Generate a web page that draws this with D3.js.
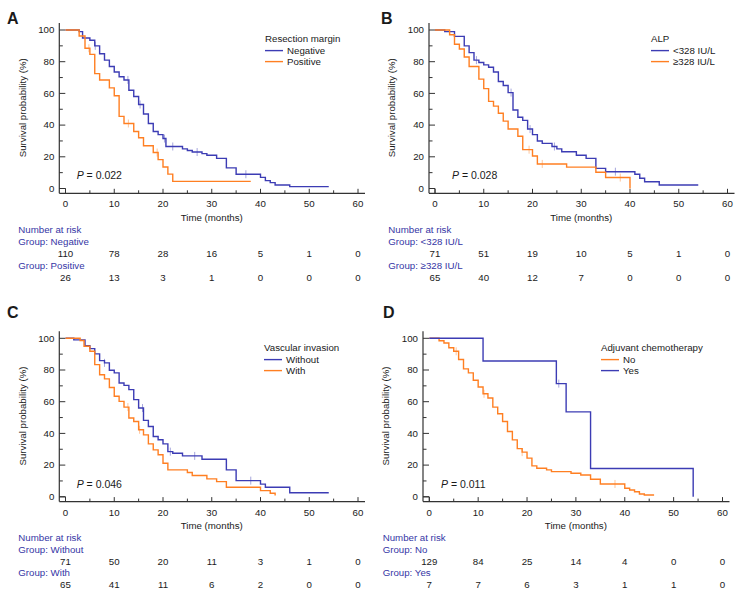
<!DOCTYPE html>
<html><head><meta charset="utf-8">
<script src="https://cdn.jsdelivr.net/npm/d3@7"></script>
<style>
body{margin:0;background:#fff}
svg{display:block}
text{font-family:"Liberation Sans",Arial,Helvetica,sans-serif;fill:#1a1a1a}
</style>
</head><body>
<svg id="chart" width="753" height="589"></svg>
<script>
// ---------- data ----------
const timeTicks = [0, 10, 20, 30, 40, 50, 60];
const survTicks = [0, 20, 40, 60, 80, 100];

// Panel A: Resection margin
const aNegT = [0, 2.8, 3.5, 5, 6, 7, 8, 9, 10, 11, 12, 13, 14, 15, 16, 17, 18, 19, 20, 20.6, 24, 25, 26, 28, 29, 31, 33, 35, 40, 41, 42, 43, 46];
const aNegS = [100, 99, 95, 93.5, 90, 85, 81, 77, 73.5, 70.5, 68.5, 62, 58, 53, 47, 41, 36, 34, 31.5, 26.5, 25, 24, 23, 22, 21, 19, 13, 9, 7, 5, 3.7, 2.2, 1.2];
const aNegEnd = 54;
const aNegCens = [6.1, 12.8, 15.3, 20.3, 22, 27, 37];
const aPosT = [0, 2.8, 4, 5, 6, 7, 9, 10, 11, 12, 14, 15, 16, 18, 19, 20, 21, 22];
const aPosS = [100, 96.2, 88.5, 84.6, 72.5, 68.5, 63.5, 58.5, 45.5, 41, 36, 32, 27, 22.7, 18.2, 13.6, 9.1, 4.5];
const aPosEnd = 38;
const aPosCens = [4.8, 12.9, 18.8];
const aRiskNeg = [110, 78, 28, 16, 5, 1, 0];
const aRiskPos = [26, 13, 3, 1, 0, 0, 0];

// Panel B: ALP
const bLowT = [0, 2, 4, 6, 7, 8, 9, 10, 11, 12, 13, 14, 15, 16, 17, 18, 19, 20, 21, 22, 24, 25, 26, 29, 31, 33, 35, 41, 42, 43, 46];
const bLowS = [100, 99, 96, 90, 85.7, 81, 79.5, 78, 76.5, 73.5, 67.5, 65, 60.5, 49.5, 45, 43, 37.5, 34, 30, 28.5, 26.5, 25, 23.2, 21, 19, 12.7, 10.6, 9, 6.5, 4.3, 2.2];
const bLowEnd = 54;
const bLowCens = [8.5, 15.6, 19.5, 24.5, 37];
const bHighT = [0, 3, 4, 5, 6, 7, 9, 10, 11, 12, 13, 14, 15, 17, 18, 20, 21, 27, 33, 35, 40];
const bHighS = [100, 97, 91, 88, 83, 77, 69, 63, 55, 52, 47.5, 42.5, 37.5, 33, 24.5, 20.5, 15.5, 13.5, 10.3, 6.9, 0];
const bHighEnd = 40;
const bHighCens = [19.3, 22, 38];
const bRiskLow = [71, 51, 19, 10, 5, 1, 0];
const bRiskHigh = [65, 40, 12, 7, 0, 0, 0];

// Panel C: Vascular invasion
const cWoT = [0, 1.7, 4, 5, 6, 7, 8, 9, 10, 11, 12, 13, 14, 15, 16, 17, 18, 19, 20, 21, 22, 24, 28, 33, 35, 40, 41, 46];
const cWoS = [100, 99, 95.4, 93.5, 90.2, 85.9, 84.5, 79.8, 78.2, 71.8, 70.3, 67.6, 61.3, 56, 48.2, 44.4, 38, 36, 33.4, 28.5, 27.5, 25.8, 23.7, 17, 10.2, 8, 6, 2.6];
const cWoEnd = 54;
const cWoCens = [8, 15.8, 21.5, 26.5, 38];
const cWiT = [0, 3, 3.8, 5, 6, 7, 8, 9, 10, 11, 12, 13, 14, 15, 16, 17, 18, 19, 20, 21, 25, 26, 29, 31, 33, 40, 42, 43];
const cWiS = [100, 98.6, 95, 91.8, 83.4, 77, 74.4, 69, 63.4, 60.2, 56.6, 49.7, 47.5, 42.3, 39.1, 33.4, 29.6, 26.5, 21.2, 17, 15.3, 13.4, 11.3, 9.6, 6, 3.9, 2.2, 0.8];
const cWiEnd = 43;
const cWiCens = [12.8, 15.2];
const cRiskWo = [71, 50, 20, 11, 3, 1, 0];
const cRiskWi = [65, 41, 11, 6, 2, 0, 0];

// Panel D: Adjuvant chemotherapy
const dNoT = [0, 2, 3, 4, 5, 6, 7, 8, 9, 10, 11, 12, 13, 14, 15, 16, 17, 18, 19, 20, 21, 22, 24, 25, 29, 31, 33, 35, 40, 41, 42, 43, 44];
const dNoS = [100, 98.5, 97, 94, 91.8, 86.6, 80.7, 78.2, 73.5, 69.3, 65, 62.3, 56.6, 52.4, 47.5, 41.2, 35.9, 30.4, 28.2, 24.4, 19.5, 18, 17, 15.9, 14.9, 13.8, 11.1, 8.1, 5.4, 4.3, 3.2, 1.8, 1.1];
const dNoEnd = 46;
const dNoCens = [5.5, 11.2, 19, 38];
const dYesT = [0, 11, 26, 28, 33, 54];
const dYesS = [100, 85.7, 71.4, 53.6, 17.9, 0];
const dYesEnd = 54;
const dYesCens = [26.5];
const dRiskNo = [129, 84, 25, 14, 4, 0, 0];
const dRiskYes = [7, 7, 6, 3, 1, 1, 0];

// ---------- styles ----------
const BLUE = "#3c3cb4";
const ORANGE = "#ff7f22";
const TXT_BLUE = "#3535a5";
const FS = 9.7;

const panels = [
  {letter: "A", title: "Resection margin", p: "0.022",
   groups: [
     {name: "Negative", t: aNegT, s: aNegS, end: aNegEnd, cens: aNegCens, color: BLUE, risk: aRiskNeg},
     {name: "Positive", t: aPosT, s: aPosS, end: aPosEnd, cens: aPosCens, color: ORANGE, risk: aRiskPos}],
   L: {axisX: 59.3, x0: 65.5, x60: 358, yTop: 30, yBot: 188.5, axisY: 193.3, letX: 7, letY: 23.5, legX: 265, legY: 38.3, pX: 76.7, pY: 175, riskX: 18.3, riskY: 230}},
  {letter: "B", title: "ALP", p: "0.028",
   groups: [
     {name: "<328 IU/L", t: bLowT, s: bLowS, end: bLowEnd, cens: bLowCens, color: BLUE, risk: bRiskLow},
     {name: "≥328 IU/L", t: bHighT, s: bHighS, end: bHighEnd, cens: bHighCens, color: ORANGE, risk: bRiskHigh}],
   L: {axisX: 429, x0: 435, x60: 727.5, yTop: 30, yBot: 188.5, axisY: 193.3, letX: 381, letY: 23.5, legX: 651, legY: 38.3, pX: 452, pY: 175, riskX: 388.3, riskY: 230}},
  {letter: "C", title: "Vascular invasion", p: "0.046",
   groups: [
     {name: "Without", t: cWoT, s: cWoS, end: cWoEnd, cens: cWoCens, color: BLUE, risk: cRiskWo},
     {name: "With", t: cWiT, s: cWiS, end: cWiEnd, cens: cWiCens, color: ORANGE, risk: cRiskWi}],
   L: {axisX: 59.3, x0: 65.5, x60: 358, yTop: 338.3, yBot: 496.8, axisY: 501.6, letX: 7, letY: 318, legX: 264, legY: 347.3, pX: 76.7, pY: 484, riskX: 18.3, riskY: 537.7}},
  {letter: "D", title: "Adjuvant chemotherapy", p: "0.011",
   groups: [
     {name: "No", t: dNoT, s: dNoS, end: dNoEnd, cens: dNoCens, color: ORANGE, risk: dRiskNo},
     {name: "Yes", t: dYesT, s: dYesS, end: dYesEnd, cens: dYesCens, color: BLUE, risk: dRiskYes}],
   L: {axisX: 423, x0: 429.3, x60: 722.5, yTop: 338.3, yBot: 496.8, axisY: 501.6, letX: 383, letY: 318, legX: 601, legY: 347.3, pX: 441, pY: 484, riskX: 382.7, riskY: 537.7}}
];

const svg = d3.select("#chart");

panels.forEach(P => {
  const L = P.L;
  const g = svg.append("g");
  const x = d3.scaleLinear().domain([0, 60]).range([L.x0, L.x60]);
  const y = d3.scaleLinear().domain([0, 100]).range([L.yBot, L.yTop]);

  // panel letter
  g.append("text").attr("x", L.letX).attr("y", L.letY)
    .attr("font-size", 16).attr("font-weight", "bold").attr("fill", "#000").text(P.letter);

  // axes lines
  const axCol = "#333";
  g.append("line").attr("x1", L.axisX).attr("x2", L.axisX)
    .attr("y1", L.yTop - 7).attr("y2", L.axisY).attr("stroke", axCol).attr("stroke-width", 1.2);
  g.append("line").attr("x1", L.axisX).attr("x2", x(60) + 7)
    .attr("y1", L.axisY).attr("y2", L.axisY).attr("stroke", axCol).attr("stroke-width", 1.2);

  // x ticks (inward)
  d3.range(0, 61, 5).forEach(v => {
    const major = v % 10 === 0;
    g.append("line").attr("x1", x(v)).attr("x2", x(v))
      .attr("y1", L.axisY).attr("y2", L.axisY - (major ? 4.5 : 3))
      .attr("stroke", axCol).attr("stroke-width", 1);
  });
  timeTicks.forEach(v => {
    g.append("text").attr("x", x(v)).attr("y", L.axisY + 10.7).attr("dy", "0.35em")
      .attr("text-anchor", "middle").attr("font-size", FS).text(v);
  });
  g.append("text").attr("x", (L.x0 + L.x60) / 2).attr("y", L.axisY + 24).attr("dy", "0.35em")
    .attr("text-anchor", "middle").attr("font-size", FS).text("Time (months)");

  // y ticks
  d3.range(0, 101, 10).forEach(v => {
    const major = v % 20 === 0;
    g.append("line").attr("x1", L.axisX).attr("x2", L.axisX + (major ? 6 : 3.5))
      .attr("y1", y(v)).attr("y2", y(v)).attr("stroke", axCol).attr("stroke-width", 1);
  });
  survTicks.forEach(v => {
    g.append("text").attr("x", L.axisX - 5).attr("y", y(v)).attr("dy", "0.35em")
      .attr("text-anchor", "end").attr("font-size", FS).text(v);
  });
  // origin tick box (x=0 tick)
  g.append("line").attr("x1", x(0)).attr("x2", x(0)).attr("y1", y(0)).attr("y2", L.axisY)
    .attr("stroke", axCol).attr("stroke-width", 1);
  g.append("line").attr("x1", L.axisX).attr("x2", x(0)).attr("y1", y(0)).attr("y2", y(0))
    .attr("stroke", axCol).attr("stroke-width", 1);

  g.append("text")
    .attr("transform", `translate(${L.axisX - 37},${(L.yTop + L.yBot) / 2 - 1.5}) rotate(-90)`)
    .attr("dy", "0.35em").attr("text-anchor", "middle").attr("font-size", FS)
    .text("Survival probability (%)");

  // curves
  const line = d3.line().x(d => x(d[0])).y(d => y(d[1])).curve(d3.curveStepAfter);
  P.groups.forEach(G => {
    const pts = G.t.map((t, i) => [t, G.s[i]]);
    pts.push([G.end, G.s[G.s.length - 1]]);
    const stepAt = tt => { let v = G.s[0]; G.t.forEach((t, i) => { if (t <= tt) v = G.s[i]; }); return v; };
    G.cens.forEach(c => {
      g.append("line").attr("x1", x(c)).attr("x2", x(c))
        .attr("y1", y(stepAt(c)) - 4).attr("y2", y(stepAt(c)) + 4)
        .attr("stroke", G.color).attr("stroke-opacity", 0.45).attr("stroke-width", 1);
    });
    g.append("path").datum(pts).attr("d", line).attr("fill", "none")
      .attr("stroke", G.color).attr("stroke-width", 1.4);
  });

  // legend
  g.append("text").attr("x", L.legX).attr("y", L.legY).attr("dy", "0.35em")
    .attr("font-size", FS).text(P.title);
  P.groups.forEach((G, i) => {
    const yy = L.legY + 12.3 + i * 11;
    g.append("line").attr("x1", L.legX).attr("x2", L.legX + 18).attr("y1", yy).attr("y2", yy)
      .attr("stroke", G.color).attr("stroke-width", 1.4);
    g.append("text").attr("x", L.legX + 22).attr("y", yy).attr("dy", "0.35em")
      .attr("font-size", FS).text(G.name);
  });

  // P value
  const pt = g.append("text").attr("x", L.pX).attr("y", L.pY).attr("dy", "0.35em").attr("font-size", 10.5);
  pt.append("tspan").attr("font-style", "italic").text("P");
  pt.append("tspan").text(" = " + P.p);

  // risk table
  g.append("text").attr("x", L.riskX).attr("y", L.riskY).attr("dy", "0.35em")
    .attr("font-size", FS).style("fill", TXT_BLUE).text("Number at risk");
  const rowOff = [[12, 23.5], [35.3, 47.3]];
  P.groups.forEach((G, i) => {
    g.append("text").attr("x", L.riskX).attr("y", L.riskY + rowOff[i][0]).attr("dy", "0.35em")
      .attr("font-size", FS).style("fill", TXT_BLUE).text("Group: " + G.name);
    G.risk.forEach((n, k) => {
      g.append("text").attr("x", x(timeTicks[k])).attr("y", L.riskY + rowOff[i][1]).attr("dy", "0.35em")
        .attr("text-anchor", "middle").attr("font-size", FS).text(n);
    });
  });
});
</script>
</body></html>
